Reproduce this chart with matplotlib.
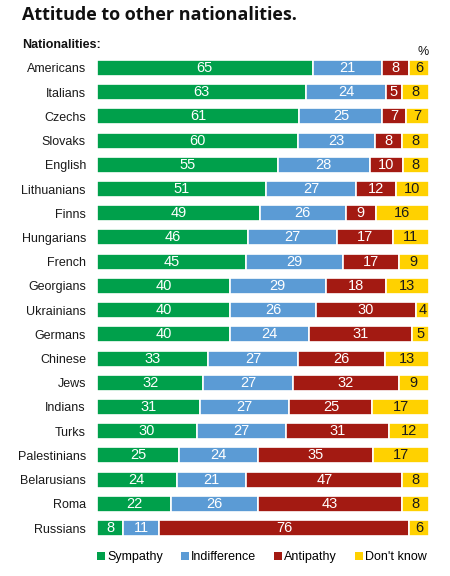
import numpy as np
import matplotlib
matplotlib.use('Agg')
import matplotlib.pyplot as plt
from matplotlib.patches import Patch

plt.rcParams['font.family'] = ['Liberation Sans', 'DejaVu Sans']

nationalities = ['Americans', 'Italians', 'Czechs', 'Slovaks', 'English', 'Lithuanians',
                 'Finns', 'Hungarians', 'French', 'Georgians', 'Ukrainians', 'Germans',
                 'Chinese', 'Jews', 'Indians', 'Turks', 'Palestinians', 'Belarusians',
                 'Roma', 'Russians']
sympathy = [65, 63, 61, 60, 55, 51, 49, 46, 45, 40, 40, 40, 33, 32, 31, 30, 25, 24, 22, 8]
indifference = [21, 24, 25, 23, 28, 27, 26, 27, 29, 29, 26, 24, 27, 27, 27, 27, 24, 21, 26, 11]
antipathy = [8, 5, 7, 8, 10, 12, 9, 17, 17, 18, 30, 31, 26, 32, 25, 31, 35, 47, 43, 76]
dont_know = [6, 8, 7, 8, 8, 10, 16, 11, 9, 13, 4, 5, 13, 9, 17, 12, 17, 8, 8, 6]

series = ['Sympathy', 'Indifference', 'Antipathy', "Don't know"]
colors = ['#00A04B', '#5B9BD5', '#A31A12', '#FFD100']
text_colors = ['white', 'white', 'white', '#1a1a1a']

data = np.array([sympathy, indifference, antipathy, dont_know], dtype=float)
totals = data.sum(axis=0)
shares = data / totals * 100

fig = plt.figure(figsize=(4.5, 5.76), dpi=100)
ax = fig.add_axes([0.2156, 0.0623, 0.7374, 0.8407])

y = np.arange(len(nationalities))
left = np.zeros(len(nationalities))
for i in range(4):
    ax.barh(y, shares[i], left=left, height=0.66, color=colors[i],
            edgecolor='white', linewidth=1.2)
    for j in range(len(nationalities)):
        ax.text(left[j] + shares[i][j] / 2, y[j], f'{int(data[i][j])}',
                ha='center', va='center', fontsize=10.5, color=text_colors[i])
    left += shares[i]

ax.set_xlim(0, 100)
ax.set_ylim(len(nationalities) - 0.5, -0.5)
ax.set_yticks(y)
ax.set_yticklabels(nationalities, fontsize=9, color='#1a1a1a')
ax.tick_params(axis='y', length=0, pad=8)
ax.set_xticks([])
for s in ax.spines.values():
    s.set_visible(False)

fig.text(0.049, 0.974, 'Attitude to other nationalities.', fontsize=13,
         fontweight='bold', family=['Open Sans', 'DejaVu Sans'], va='center', color='#111111')
fig.text(0.049, 0.922, 'Nationalities:', fontsize=9, fontweight='bold', va='center',
         color='#111111')
fig.text(0.94, 0.909, '%', fontsize=9, ha='center', va='center', color='#111111')

handles = [Patch(facecolor=c, edgecolor='none') for c in colors]
fig.legend(handles, series, loc='center left', bbox_to_anchor=(0.205, 0.033), ncol=4,
           frameon=False, fontsize=9, handlelength=0.6, handleheight=0.6,
           handletextpad=0.2, columnspacing=1.45, borderaxespad=0)

fig.savefig('out.png', dpi=100)
